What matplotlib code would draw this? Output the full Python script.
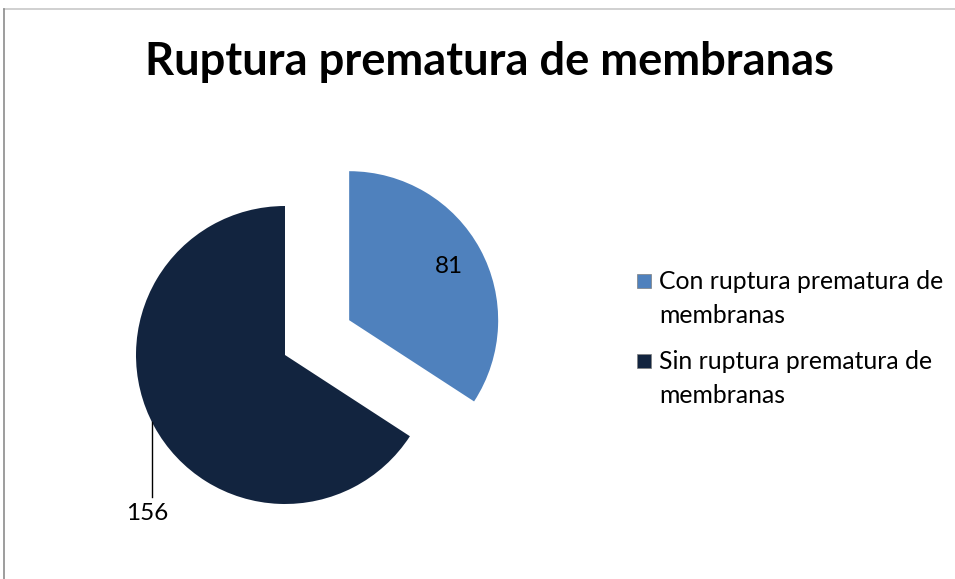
import numpy as np
import matplotlib.pyplot as plt
from matplotlib.patches import Patch, Rectangle
from matplotlib.legend_handler import HandlerPatch

plt.rcParams['font.family'] = ['Lato', 'DejaVu Sans']

# data
labels = ['Con ruptura prematura de\nmembranas', 'Sin ruptura prematura de\nmembranas']
values = [81, 156]
colors = ['#4F81BD', '#12243F']

W, H = 955, 579
fig = plt.figure(figsize=(W / 100, H / 100), dpi=100)
ax = fig.add_axes([0, 0, 1, 1])

# chart border (top and left visible)
ax.plot([4, W], [H - 9, H - 9], color='#C8C8C8', lw=1.2)
ax.plot([4, 4], [0, H - 9], color='#8C8C8C', lw=1.2)

ax.text(489, H - 62, 'Ruptura prematura de membranas', ha='center', va='center',
        fontsize=32.6, fontweight='bold', color='black')

center = (285, H - 355)
radius = 149
wedges, _ = ax.pie(values, colors=colors, startangle=90, counterclock=False,
                   center=center, radius=radius, explode=[73, 0],
                   wedgeprops=dict(linewidth=0), frame=True)
ax.set_xlim(0, W)
ax.set_ylim(0, H)
ax.set_aspect('equal')
ax.axis('off')

# label inside the exploded slice
w = wedges[0]
th = np.deg2rad((w.theta1 + w.theta2) / 2)
cx, cy = w.center
ax.text(cx + 0.76 * radius * np.cos(th), cy + 0.76 * radius * np.sin(th), str(values[0]),
        ha='center', va='center', fontsize=17.5, color='black')

# label for the big slice with a leader line
w = wedges[1]
ang = np.deg2rad(206.7)
cx, cy = w.center
px, py = cx + radius * np.cos(ang), cy + radius * np.sin(ang)
ax.plot([px, px], [py, H - 497], color='black', lw=1)
ax.text(px - 5, H - 513, str(values[1]), ha='center', va='center', fontsize=17.5, color='black')


# legend square sits next to the first text line
def top_square(legend, orig_handle, xdescent, ydescent, width, height, fontsize):
    return Rectangle((-xdescent, -ydescent + 13.5), width, width)


handles = [Patch(facecolor=c, edgecolor='#7F7F7F', linewidth=0.5) for c in colors]
leg = ax.legend(handles, labels, loc='upper left', bbox_to_anchor=(615 / W, 1 - 248 / H),
                frameon=False, fontsize=17.8, handlelength=0.57, handleheight=0.57,
                handletextpad=0.32, labelspacing=0.95,
                handler_map={Patch: HandlerPatch(patch_func=top_square)})
for t in leg.get_texts():
    t.set_linespacing(1.55)

fig.savefig('out.png', dpi=100)
